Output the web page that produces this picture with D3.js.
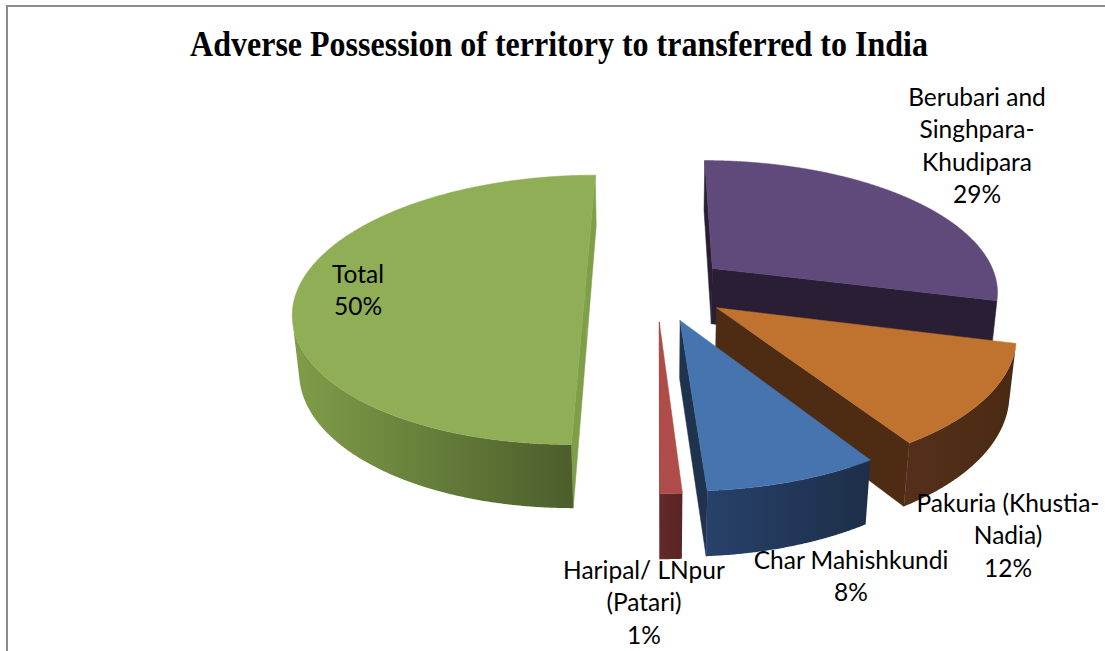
<!DOCTYPE html>
<html>
<head>
<meta charset="utf-8">
<script src="https://cdn.jsdelivr.net/npm/d3@7"></script>
<style>
  body { margin: 0; background: #fff; }
  svg { display: block; }
</style>
</head>
<body>
<svg id="chart" width="1105" height="651"></svg>
<script>
// data
const categories = ["Berubari and Singhpara-Khudipara", "Pakuria (Khustia-Nadia)", "Char Mahishkundi", "Haripal/ LNpur (Patari)", "Total"]
const percents = [29, 12, 8, 1, 50]
const labelLines = [["Berubari and", "Singhpara-", "Khudipara"], ["Pakuria (Khustia-", "Nadia)"], ["Char Mahishkundi"], ["Haripal/ LNpur", "(Patari)"], ["Total"]]
const title = "Adverse Possession of territory to transferred to India"

// styles
const topColors = ["#5f4a7b", "#c0732f", "#4674ae", "#af4b48", "#8fae55"]
const radialColors = ["#291e33", "#4e2c14", "#1f334f", "#5f2727", "#7f9e48"]
const sideLight = ["#2e2239", "#54301a", "#28416a", "#642929", "#809d49"]
const sideDark = ["#261b30", "#4a2912", "#1d2f48", "#5a2424", "#4b5e2b"]
const labelPos = [[977, 97], [1008, 503], [851, 560], [644, 570], [358, 274]]
const lineGap = 32.5

// 3d pie geometry (world units, radius 1)
const cx = 657, cy = 288, S = 287
const tilt = Math.asin(0.457)
const camD = 5.49
const thick = 0.225
const explode = 0.25

const camPos = [0, camD * Math.sin(tilt), -camD * Math.cos(tilt)]

function project(p) {
    const up = p[1] * Math.cos(tilt) + p[2] * Math.sin(tilt)
    const dep = p[2] * Math.cos(tilt) - p[1] * Math.sin(tilt)
    const f = camD / (camD + dep)
    return [cx + S * p[0] * f, cy - S * up * f]
}

function facing(p, n) {
    return n[0] * (camPos[0] - p[0]) + n[1] * (camPos[1] - p[1]) + n[2] * (camPos[2] - p[2]) > 0
}

const svg = d3.select("#chart")
const defs = svg.append("defs")
const line = d3.line()
const poly = pts => line(pts.map(project)) + "Z"

// frame
svg.append("rect")
    .attr("x", 7).attr("y", 6)
    .attr("width", 1200).attr("height", 800)
    .attr("fill", "none")
    .attr("stroke", "#8c8c8c")
    .attr("stroke-width", 2)

const pie = d3.pie().sort(null).value(d => d)
const arcs = pie(percents)

const slices = arcs.map((a, i) => {
    const mid = (a.startAngle + a.endAngle) / 2
    const ox = explode * Math.sin(mid), oz = explode * Math.cos(mid)
    const w = (ang, r, y) => [ox + r * Math.sin(ang), y, oz + r * Math.cos(ang)]
    return { i, a0: a.startAngle, a1: a.endAngle, mid, w, depth: oz + 0.5 * Math.cos(mid) }
})
slices.sort((p, q) => q.depth - p.depth)

const pieG = svg.append("g")

slices.forEach(s => {
    const g = pieG.append("g")
    const { i, a0, a1, w } = s
    const steps = Math.max(2, Math.ceil((a1 - a0) / (Math.PI / 720)))
    const angs = d3.range(steps + 1).map(k => a0 + (a1 - a0) * k / steps)

    const grad = defs.append("linearGradient").attr("id", "side" + i)
    grad.append("stop").attr("offset", "0%").attr("stop-color", sideLight[i])
    grad.append("stop").attr("offset", "100%").attr("stop-color", sideDark[i])

    // radial faces
    const faces = [
        { ang: a0, n: [-Math.cos(a0), 0, Math.sin(a0)] },
        { ang: a1, n: [Math.cos(a1), 0, -Math.sin(a1)] }
    ]
    faces.forEach(f => {
        if (!facing(w(f.ang, 0.5, -thick / 2), f.n)) return
        g.append("path")
            .attr("d", poly([w(0, 0, 0), w(f.ang, 1, 0), w(f.ang, 1, -thick), w(0, 0, -thick)]))
            .attr("fill", radialColors[i])
            .attr("stroke", radialColors[i]).attr("stroke-width", 0.5)
    })

    // outer curved side, only the parts turned to the camera
    const vis = angs.map(t => facing(w(t, 1, -thick / 2), [Math.sin(t), 0, Math.cos(t)]))
    let run = []
    const flush = () => {
        if (run.length > 1) {
            const pts = run.map(t => w(t, 1, 0)).concat(run.slice().reverse().map(t => w(t, 1, -thick)))
            g.append("path")
                .attr("d", poly(pts))
                .attr("fill", `url(#side${i})`)
        }
        run = []
    }
    angs.forEach((t, k) => { if (vis[k]) run.push(t); else flush() })
    flush()

    // top face
    g.append("path")
        .attr("d", poly([w(0, 0, 0)].concat(angs.map(t => w(t, 1, 0)))))
        .attr("fill", topColors[i])
        .attr("stroke", topColors[i]).attr("stroke-width", 0.5)
})

// title, a little taller than wide like the source
const titleText = svg.append("text")
    .attr("transform", "translate(559,56) scale(1,1.12)")
    .attr("text-anchor", "middle")
    .attr("font-family", "'Liberation Serif', 'Times New Roman', serif")
    .attr("font-weight", "bold")
    .attr("font-size", 28)
    .attr("fill", "#000")
    .text(title)
const tw = titleText.node().getComputedTextLength()
titleText.attr("font-size", 28 * 738 / tw)

// data labels
labelLines.forEach((lines, i) => {
    const all = lines.concat([percents[i] + "%"])
    const t = svg.append("text")
        .attr("text-anchor", "middle")
        .attr("font-family", "Lato, 'Open Sans', sans-serif")
        .attr("font-size", 24.5)
        .attr("fill", "#000")
    all.forEach((s, k) => {
        t.append("tspan")
            .attr("x", labelPos[i][0])
            .attr("y", labelPos[i][1] + k * lineGap)
            .attr("dy", "0.35em")
            .text(s)
    })
})
</script>
</body>
</html>
